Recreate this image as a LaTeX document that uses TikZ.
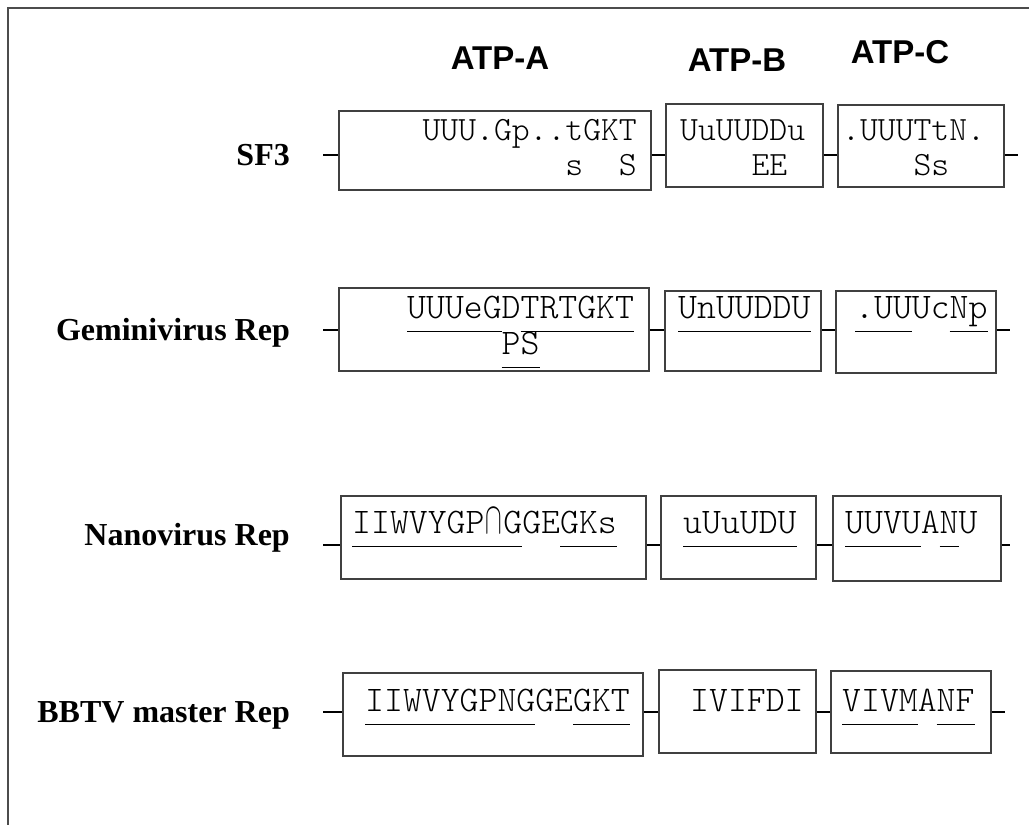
\documentclass[tikz,border=0pt]{standalone}
\usepackage{fontspec}
\usepackage{graphicx}
\newfontfamily\labelfont{Liberation Serif}
\newfontfamily\headfont{Liberation Sans}
\usetikzlibrary{positioning}

\newcommand{\ulseq}[1]{\setbox0\hbox{#1}\rlap{\rule[-14pt]{\wd0}{1.3pt}}\box0}
\newcommand{\capsym}{\makebox[0.525em]{\scalebox{1}[1.8]{$\cap$}}}

\tikzset{
  box/.style={draw=black!75, line width=1.5pt, anchor=north west, inner sep=0pt},
  link/.style={black, line width=1.3pt},
  frame/.style={black!70, line width=2pt},
  seq/.style={font=\fontfamily{lmtt}\fontseries{l}\fontsize{36}{40}\selectfont, inner sep=0pt, anchor=base west},
  small seq/.style={seq, font=\fontfamily{lmtt}\fontseries{l}\fontsize{34}{38}\selectfont},
  rowlabel/.style={font=\labelfont\bfseries\fontsize{32}{36}\selectfont, anchor=base east, inner sep=0pt},
  atp/.style={font=\headfont\bfseries\fontsize{33}{36}\selectfont, inner sep=0pt}
}

\begin{document}
\begin{tikzpicture}[x=1pt, y=-1pt]
  \useasboundingbox (0,0) rectangle (1029,825);
  \draw[frame] (1029,8) -- (8,8) -- (8,825);

  \node[atp] (atpa) at (500,58) {ATP-A};
  \node[atp] (atpb) at (737,60) {ATP-B};
  \node[atp] (atpc) at (900,52) {ATP-C};

  % SF3
  \node[rowlabel] (sf3) at (290,165) {SF3};
  \node[box, minimum width=312pt, minimum height=79pt] (a1) at (338,110) {};
  \node[box, minimum width=157pt, minimum height=83pt] (b1) at (665,103) {};
  \node[box, minimum width=166pt, minimum height=82pt] (c1) at (837,104) {};
  \node[small seq, anchor=base east] (sa1) at (637,140) {UUU.Gp..tGKT};
  \node[small seq, anchor=base east] (sa1b) at (637,175) {s\hphantom{GK}S};
  \node[small seq] (sb1) at (680,140) {UuUUDDu};
  \node[small seq] (sb1b) at (680,175) {\hphantom{UuUU}EE};
  \node[small seq] (sc1) at (842,140) {.UUUTtN.};
  \node[small seq] (sc1b) at (842,175) {\hphantom{.UUU}Ss};
  \coordinate (l1) at (323,155);
  \coordinate (r1) at (1018,155);
  \draw[link] (l1) -- (l1 -| a1.west);
  \draw[link] (a1.east |- l1) -- (b1.west |- l1);
  \draw[link] (b1.east |- l1) -- (c1.west |- l1);
  \draw[link] (c1.east |- l1) -- (r1);

  % Geminivirus Rep
  \node[rowlabel] (gemini) at (290,340) {Geminivirus Rep};
  \node[box, minimum width=310pt, minimum height=83pt] (a2) at (338,287) {};
  \node[box, minimum width=156pt, minimum height=80pt] (b2) at (664,290) {};
  \node[box, minimum width=160pt, minimum height=82pt] (c2) at (835,290) {};
  \node[seq] (sa2) at (407,318) {\ulseq{UUUeG}D\ulseq{TRTGKT}};
  \node[seq] (sa2b) at (407,354) {\hphantom{UUUeG}\ulseq{PS}};
  \node[seq] (sb2) at (678,318) {\ulseq{UnUUDDU}};
  \node[seq] (sc2) at (855,318) {\ulseq{.UU}Uc\ulseq{Np}};
  \coordinate (l2) at (323,330);
  \coordinate (r2) at (1010,330);
  \draw[link] (l2) -- (l2 -| a2.west);
  \draw[link] (a2.east |- l2) -- (b2.west |- l2);
  \draw[link] (b2.east |- l2) -- (c2.west |- l2);
  \draw[link] (c2.east |- l2) -- (r2);

  % Nanovirus Rep
  \node[rowlabel] (nano) at (290,545) {Nanovirus Rep};
  \node[box, minimum width=305pt, minimum height=83pt] (a3) at (340,495) {};
  \node[box, minimum width=155pt, minimum height=83pt] (b3) at (660,495) {};
  \node[box, minimum width=168pt, minimum height=85pt] (c3) at (832,495) {};
  \node[seq] (sa3) at (352,533) {\ulseq{IIWVYGP\capsym G}GE\ulseq{GKs}};
  \node[seq] (sb3) at (683,533) {\ulseq{uUuUDU}};
  \node[seq] (sc3) at (845,533) {\ulseq{UUVU}A\ulseq{N}U};
  \coordinate (l3) at (323,545);
  \coordinate (r3) at (1010,545);
  \draw[link] (l3) -- (l3 -| a3.west);
  \draw[link] (a3.east |- l3) -- (b3.west |- l3);
  \draw[link] (b3.east |- l3) -- (c3.west |- l3);
  \draw[link] (c3.east |- l3) -- (r3);

  % BBTV master Rep
  \node[rowlabel] (bbtv) at (290,722) {BBTV master Rep};
  \node[box, minimum width=300pt, minimum height=83pt] (a4) at (342,672) {};
  \node[box, minimum width=157pt, minimum height=83pt] (b4) at (658,669) {};
  \node[box, minimum width=160pt, minimum height=82pt] (c4) at (830,670) {};
  \node[seq] (sa4) at (365,711) {\ulseq{IIWVYGPNG}GE\ulseq{GKT}};
  \node[seq] (sb4) at (690,711) {IVIFDI};
  \node[seq] (sc4) at (842,711) {\ulseq{VIVM}A\ulseq{NF}};
  \coordinate (l4) at (323,712);
  \coordinate (r4) at (1005,712);
  \draw[link] (l4) -- (l4 -| a4.west);
  \draw[link] (a4.east |- l4) -- (b4.west |- l4);
  \draw[link] (b4.east |- l4) -- (c4.west |- l4);
  \draw[link] (c4.east |- l4) -- (r4);
\end{tikzpicture}
\end{document}
